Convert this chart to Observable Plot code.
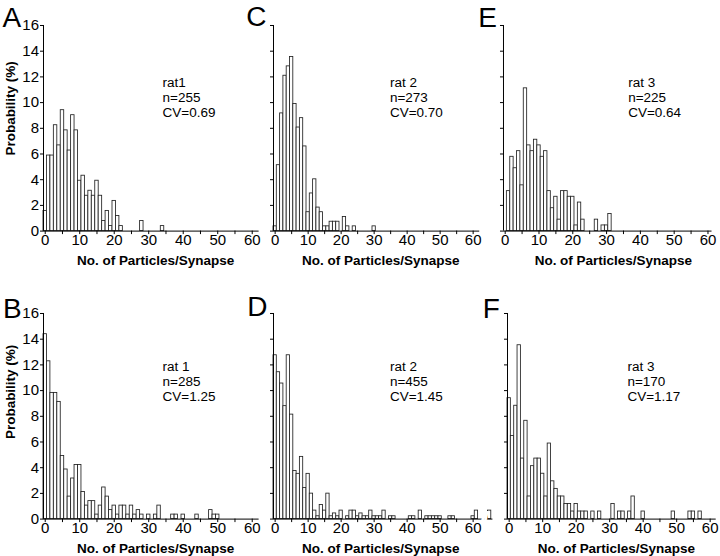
<!DOCTYPE html>
<html><head><meta charset="utf-8">
<script src="https://cdn.jsdelivr.net/npm/d3@7"></script>
<script src="https://cdn.jsdelivr.net/npm/@observablehq/plot@0.6"></script>
<style>
html,body{margin:0;padding:0;background:#fff;}
#fig{position:relative;width:720px;height:556px;overflow:hidden;background:#fff;font-family:"Liberation Sans",Arial,Helvetica,sans-serif;}
.panel{position:absolute;}
.panel svg{overflow:visible;max-width:none;}
</style></head><body><div id="fig"></div>
<script>
// ---- data (probability %, per number of particles/synapse) ----
const A_bins = [0,1,2,3,4,5,6,7,8,9,10,11,12,13,14,15,16,17,18,19,20,21,22,28,34];
const A_pct  = [1.57,5.88,5.88,8.24,6.67,9.41,7.84,6.27,9.02,7.84,3.92,4.31,2.75,3.14,2.75,3.92,2.75,0.78,1.57,0.39,2.35,1.18,0.39,0.78,0.39];
const A_note = ["rat1","n=255","CV=0.69"];

const B_bins = [0,1,2,3,4,5,6,7,8,9,10,11,12,13,14,15,16,17,18,19,20,21,22,23,24,25,26,27,28,30,32,33,37,38,40,44,48,49,50];
const B_pct  = [14.39,12.28,9.82,9.82,9.12,4.91,3.86,1.75,3.16,4.21,4.21,2.11,1.05,1.40,1.40,0.35,1.05,2.46,1.75,0.70,1.05,0.35,1.05,1.05,0.35,1.05,0.35,0.70,0.35,0.35,0.35,1.05,0.35,0.35,0.35,0.35,0.70,0.35,0.35];
const B_note = ["rat 1","n=285","CV=1.25"];

const C_bins = [0,1,2,3,4,5,6,7,8,9,10,11,12,13,14,15,16,17,18,19,21,22,24,30];
const C_pct  = [0.37,5.13,9.16,12.09,12.82,13.55,9.89,8.06,8.79,6.59,1.47,2.93,4.03,1.83,1.47,0.37,0.37,0.73,0.73,0.73,1.10,0.37,0.37,0.37];
const C_note = ["rat 2","n=273","CV=0.70"];

const D_bins = [0,1,2,3,4,5,6,7,8,9,10,11,12,13,14,15,16,17,18,19,20,22,23,24,25,26,27,28,29,30,31,32,33,35,36,41,42,44,46,47,48,49,50,53,54,60,61,65];
const D_pct  = [12.75,11.43,10.55,8.79,12.75,8.13,3.74,3.52,4.84,2.42,3.52,1.98,0.66,0.22,1.10,0.66,1.98,0.22,0.44,0.22,0.66,0.22,0.66,0.66,0.22,0.44,0.22,0.22,0.66,0.22,0.22,0.22,0.66,0.22,0.22,0.22,0.22,0.66,0.22,0.22,0.22,0.22,0.22,0.22,0.22,0.22,0.66,0.66];
const D_note = ["rat 2","n=455","CV=1.45"];

const E_bins = [1,2,3,4,5,6,7,8,9,10,11,12,13,14,15,16,17,18,19,20,21,22,23,27,29,30,31];
const E_pct  = [3.11,5.78,4.89,6.22,3.56,11.11,6.67,6.22,7.11,6.67,5.78,6.22,3.11,1.78,2.67,0.89,3.11,3.11,2.67,2.67,0.44,2.22,0.89,0.89,0.44,0.44,1.33];
const E_note = ["rat 3","n=225","CV=0.64"];

const F_bins = [0,1,2,3,4,5,6,7,8,9,10,11,12,13,14,15,16,17,18,19,20,21,22,23,25,27,31,33,34,36,37,40,49,54,55,57];
const F_pct  = [9.41,6.47,8.82,13.53,4.71,7.65,1.76,4.12,4.71,4.71,3.53,1.76,5.88,2.94,2.35,1.76,1.76,1.18,1.18,0.59,1.18,0.59,0.59,0.59,0.59,0.59,1.18,0.59,0.59,0.59,1.76,0.59,0.59,0.59,0.59,0.59];
const F_note = ["rat 3","n=170","CV=1.17"];

const yTicks = [0,2,4,6,8,10,12,14,16];
const xTicks = [0,5,10,15,20,25,30,35,40,45,50,55,60];
const xTickLabels = [0,10,20,30,40,50,60];
const xTitle = "No. of Particles/Synapse";
const yTitle = "Probability (%)";

// ---- layout (pixels) ----
const FONT = '"Liberation Sans", Arial, Helvetica, sans-serif';
const panels = [
  {letter:"A", bins:A_bins, pct:A_pct, note:A_note, top:25,    axisX:43,    ppu:3.45, xHi:62, ylab:true,  lx:-41,   ly:1.5, nx:34,   ny:12.05, ty:9.55},
  {letter:"B", bins:B_bins, pct:B_pct, note:B_note, top:312.7, axisX:42.8,  ppu:3.45, xHi:62, ylab:true,  lx:-40.5, ly:4.3, nx:34,   ny:12.35, ty:9.9},
  {letter:"C", bins:C_bins, pct:C_pct, note:C_note, top:25,    axisX:273.3, ppu:3.3,  xHi:62, ylab:false, lx:-27.3, ly:0.5, nx:34.8, ny:12.05},
  {letter:"D", bins:D_bins, pct:D_pct, note:D_note, top:312.7, axisX:273.3, ppu:3.3,  xHi:66, ylab:false, lx:-26.3, ly:2.3, nx:34.8, ny:12.35, brk:63.6},
  {letter:"E", bins:E_bins, pct:E_pct, note:E_note, top:25,    axisX:503.3, ppu:3.38, xHi:61.2, ylab:false, lx:-25.3, ly:1.5, nx:36.4, ny:12.05},
  {letter:"F", bins:F_bins, pct:F_pct, note:F_note, top:312.7, axisX:506.7, ppu:3.35, xHi:61.8, ylab:false, lx:-24.7, ly:4.3, nx:35.3, ny:12.35}
];

const fig = document.getElementById("fig");
const ml = 52, mr = 8, mt = 12, mb = 46, ph = 205.6;

for (const p of panels) {
  const W = ml + (p.xHi + 0.5) * p.ppu + mr;
  const H = mt + ph + mb;
  const rows = p.bins.map((b, i) => ({bin: b, pct: p.pct[i]})).filter(d => d.pct > 0);
  const marks = [
    Plot.rect(rows, {x1: d => d.bin - 0.5, x2: d => d.bin + 0.5, y1: 0, y2: "pct",
      fill: "white", stroke: "#222", strokeWidth: 0.85}),
    Plot.ruleY([0], {x1: -0.5, x2: p.xHi, stroke: "#000", strokeWidth: 1}),
    Plot.ruleX([-0.5], {y1: 0, y2: 16, stroke: "#000", strokeWidth: 1}),
    Plot.axisY({ticks: yTicks, anchor: "left", tickSize: 3, tickPadding: 1.5, label: null,
      tickFormat: p.ylab ? (d => String(d)) : (() => ""), fontSize: 15}),
    Plot.axisX({ticks: xTicks, anchor: "bottom", tickSize: 3.5, tickPadding: 0, label: null,
      tickFormat: d => (xTickLabels.includes(d) ? String(d) : ""), fontSize: 15}),
    Plot.text([p.note.join("\n")], {x: p.nx, y: p.ny, text: d => d, textAnchor: "start",
      lineAnchor: "top", lineHeight: 1.11, fontSize: 13.5}),
    Plot.text([xTitle], {x: 32, y: 0, dy: 30, text: d => d, lineAnchor: "middle",
      fontSize: 13.5, fontWeight: "bold"}),
    Plot.text([p.letter], {x: -0.5, y: 16, dx: p.lx, dy: p.ly, text: d => d, textAnchor: "start",
      lineAnchor: "bottom", fontSize: 28})
  ];
  if (p.ylab) {
    marks.push(Plot.text([yTitle], {x: -0.5, y: p.ty, dx: -33, text: d => d, rotate: -90,
      lineAnchor: "middle", fontSize: 13.5, fontWeight: "bold"}));
  }
  if (p.brk) {
    marks.push(Plot.text(["//"], {x: p.brk, y: 0, dy: -2, text: d => d, lineAnchor: "middle",
      fontSize: 10, stroke: "white", strokeWidth: 2, paintOrder: "stroke"}));
  }
  const svg = Plot.plot({
    width: W, height: H,
    marginLeft: ml, marginRight: mr, marginTop: mt, marginBottom: mb,
    style: {background: "transparent", overflow: "visible", fontFamily: FONT, fontSize: "15px", color: "#000"},
    x: {domain: [-0.5, p.xHi]},
    y: {domain: [0, 16]},
    marks
  });
  const div = document.createElement("div");
  div.className = "panel";
  div.style.left = (p.axisX - ml) + "px";
  div.style.top = (p.top - mt) + "px";
  div.style.width = W + "px";
  div.style.height = H + "px";
  div.appendChild(svg);
  fig.appendChild(div);
}
</script></body></html>
